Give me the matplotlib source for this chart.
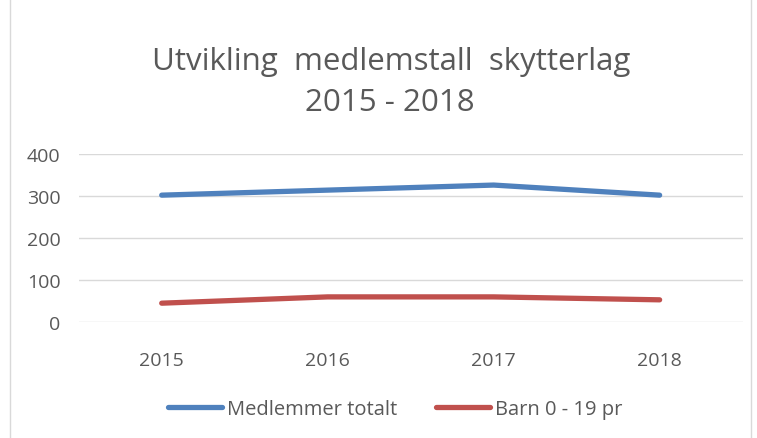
import matplotlib.pyplot as plt
from matplotlib.patches import Rectangle

plt.rcParams['font.family'] = ['Open Sans', 'DejaVu Sans']

years = ['2015', '2016', '2017', '2018']
medlemmer_totalt = [302, 314, 326, 302]
barn_0_19 = [45, 60, 60, 53]
y_ticks = [0, 100, 200, 300, 400]

tekst = '#595959'

fig = plt.figure(figsize=(7.57, 4.39), dpi=100)
ax = fig.add_axes([0.104, 0.264, 0.877, 0.383])

x = range(len(years))
ax.plot(x, medlemmer_totalt, color='#4F81BD', lw=3.8, solid_capstyle='round',
        label='Medlemmer totalt')
ax.plot(x, barn_0_19, color='#C0504D', lw=3.8, solid_capstyle='round',
        label='Barn 0 - 19 pr')

ax.set_xlim(-0.5, len(years) - 0.5)
ax.set_ylim(0, 400)
ax.set_yticks(y_ticks)
ax.set_xticks(list(x))
ax.set_xticklabels(years)
ax.yaxis.grid(True, color='#D9D9D9', lw=1)
ax.set_axisbelow(True)
for s in ax.spines.values():
    s.set_visible(False)
ax.tick_params(length=0, labelsize=14, colors=tekst, pad=13)
ax.tick_params(axis='x', pad=21)

fig.text(0.517, 0.858, 'Utvikling  medlemstall  skytterlag', ha='center', va='center',
         fontsize=22.5, color=tekst)
fig.text(0.515, 0.765, '2015 - 2018', ha='center', va='center',
         fontsize=22.5, color=tekst)

fig.legend(loc='center', bbox_to_anchor=(0.522, 0.066), ncol=2, frameon=False,
           fontsize=14.5, labelcolor=tekst, handlelength=2.7, handletextpad=0.25,
           columnspacing=1.9)

# ramme rundt diagrammet
fig.patches.append(Rectangle((0.013, -0.01), 0.979, 1.03, transform=fig.transFigure,
                             fill=False, edgecolor='#D9D9D9', lw=1))

fig.savefig('out.png', dpi=100)
